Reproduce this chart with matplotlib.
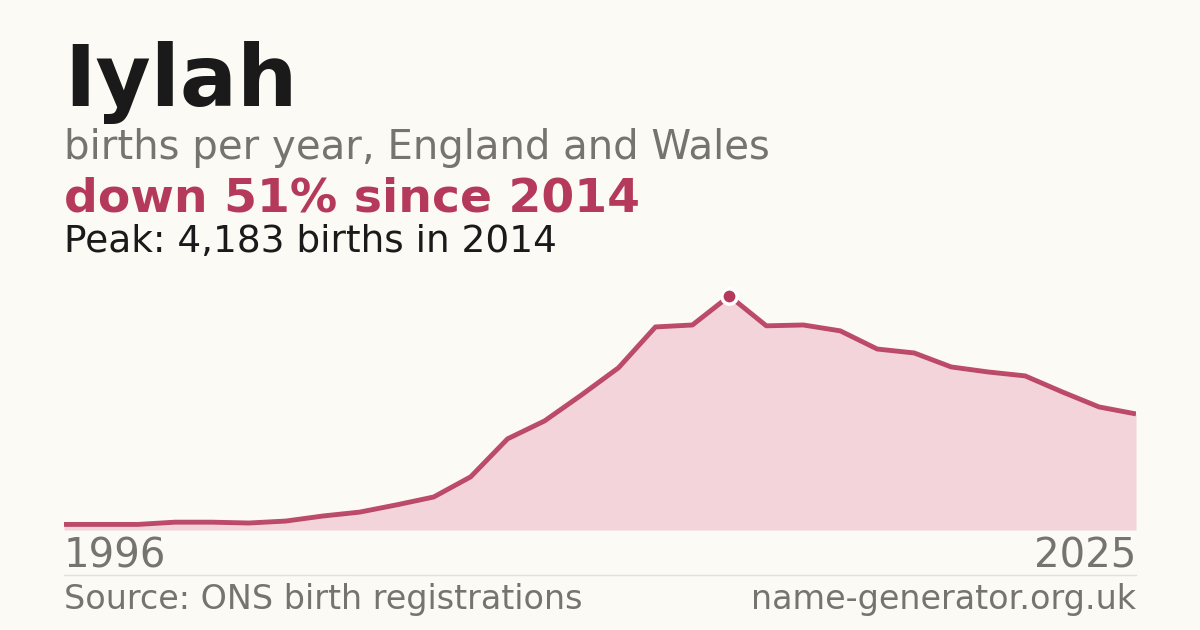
import matplotlib
matplotlib.use("Agg")
import matplotlib.pyplot as plt

years = list(range(1996, 2026))
births = [100, 100, 100, 140, 140, 125, 160, 250, 320, 450, 590, 950, 1630, 1950, 2415,
          2900, 3630, 3665, 4183, 3650, 3665, 3560, 3235, 3165, 2915, 2825, 2755, 2470, 2200, 2075]
title = "Iylah"
subtitle = "births per year, England and Wales"
headline = "down 51% since 2014"
peak_text = "Peak: 4,183 births in 2014"

bg = "#fbfaf5"
red = "#b5395a"
fig = plt.figure(figsize=(12, 6.3), dpi=100, facecolor=bg)
W, H = 1200, 630
ax = fig.add_axes([64/W, (H-530)/H, 1072/W, 250/H])
ax.set_facecolor(bg)
pk = max(births)
ax.set_ylim(0, pk*250/234)
ax.set_xlim(years[0], years[-1])
ax.fill_between(years, births, color="#f2d4da", lw=0)
ax.plot(years, births, color=red, lw=3.5, solid_capstyle="butt", alpha=0.9)
pi = births.index(pk)
ax.plot([years[pi]], [pk], "o", ms=11, color=red, mec="white", mew=2.5, clip_on=False)
ax.axis("off")

fig.text(64/W, 1-83/H, title, fontsize=61, fontweight="bold", color="#1a1a1a", va="center")
fig.text(64/W, 1-148/H, subtitle, fontsize=29, color="#77736e", va="center")
fig.text(64/W, 1-199/H, headline, fontsize=34, fontweight="bold", color=red, va="center")
fig.text(64/W, 1-242/H, peak_text, fontsize=27, color="#1a1a1a", va="center")
fig.text(64/W, 1-556/H, str(years[0]), fontsize=29, color="#77736e", va="center")
fig.text(1136/W, 1-556/H, str(years[-1]), fontsize=29, color="#77736e", va="center", ha="right")
fig.add_artist(plt.Line2D([64/W, 1136/W], [1-575/H]*2, color="#e2e0da", lw=1))
fig.text(64/W, 1-600/H, "Source: ONS birth registrations", fontsize=24, color="#77736e", va="center")
fig.text(1136/W, 1-600/H, "name-generator.org.uk", fontsize=24, color="#77736e", va="center", ha="right")
fig.savefig("out.png", dpi=100, facecolor=bg)
